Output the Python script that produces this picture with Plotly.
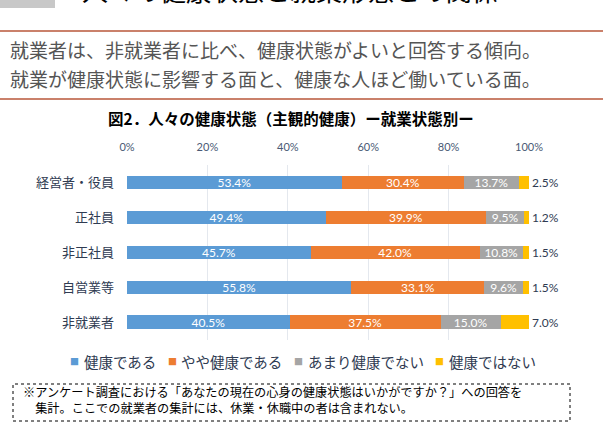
import plotly.graph_objects as go

categories = ["経営者・役員", "正社員", "非正社員", "自営業等", "非就業者"]
series_names = ["健康である", "やや健康である", "あまり健康でない", "健康ではない"]
healthy = [53.4, 49.4, 45.7, 55.8, 40.5]
somewhat = [30.4, 39.9, 42.0, 33.1, 37.5]
not_very = [13.7, 9.5, 10.8, 9.6, 15.0]
not_healthy = [2.5, 1.2, 1.5, 1.5, 7.0]
tick_vals = [0, 20, 40, 60, 80, 100]
tick_text = ["0%", "20%", "40%", "60%", "80%", "100%"]
colors = ["#5B9BD5", "#ED7D31", "#A5A5A5", "#FFC000"]

W, H = 603, 423
FONT = "Noto Sans CJK JP"
NAVY = "#2F3B52"


def py(px):
    return 1 - px / H


def pxx(px):
    return px / W


fig = go.Figure()
all_vals = [healthy, somewhat, not_very, not_healthy]
for i, (name, vals) in enumerate(zip(series_names, all_vals)):
    last = i == 3
    fig.add_trace(go.Bar(
        y=categories, x=vals, name=name, orientation="h",
        marker=dict(color=colors[i], line=dict(width=0)),
        text=[f"{v:.1f}%" for v in vals],
        textposition="outside" if last else "inside",
        insidetextanchor="middle",
        textfont=dict(family="Lato", size=12, color=NAVY if last else "white"),
        cliponaxis=False,
        hoverinfo="skip",
        showlegend=False,
    ))

fig.update_layout(
    width=W, height=H, barmode="stack", bargap=0.62,
    margin=dict(l=0, r=0, t=0, b=0, autoexpand=False),
    paper_bgcolor="white", plot_bgcolor="white",
    font=dict(family=FONT, color=NAVY),
    uniformtext=dict(minsize=12, mode="show"),
    xaxis=dict(domain=[pxx(127), pxx(529)], range=[0, 100], side="top",
               tickvals=tick_vals, ticktext=tick_text, showgrid=True,
               gridcolor="#E4E8EE", gridwidth=1, zeroline=False, automargin=False,
               tickfont=dict(family="Lato", size=11, color="#4A5A75"),
               ticks="", showline=False, fixedrange=True, ticklabelstandoff=11),
    yaxis=dict(domain=[py(339.5), py(165)], autorange="reversed", automargin=False,
               tickfont=dict(family=FONT, size=13, color=NAVY),
               ticks="", showline=False, ticklabelstandoff=12, fixedrange=True),
    showlegend=False,
)

shapes = [
    dict(type="rect", xref="paper", yref="paper", x0=-0.01, x1=pxx(55), y0=py(8), y1=1.05,
         fillcolor="#C8C8C8", line=dict(width=0)),
    dict(type="line", xref="paper", yref="paper", x0=0, x1=1, y0=py(31), y1=py(31),
         line=dict(color="#B9573A", width=1.5)),
    dict(type="line", xref="paper", yref="paper", x0=0, x1=1, y0=py(99), y1=py(99),
         line=dict(color="#B9573A", width=1.5)),
    dict(type="rect", xref="paper", yref="paper", x0=pxx(13), x1=pxx(570), y0=py(421), y1=py(384),
         line=dict(color="black", width=1, dash="dot"), fillcolor="rgba(0,0,0,0)"),
]
fig.update_layout(shapes=shapes)

annotations = [
    dict(text="人々の健康状態と就業形態との関係", xref="paper", yref="paper",
         x=pxx(80), y=py(-10), xanchor="left", yanchor="middle", showarrow=False,
         font=dict(family=FONT, size=26, color="black")),
    dict(text="就業者は、非就業者に比べ、健康状態がよいと回答する傾向。", xref="paper", yref="paper",
         x=pxx(8), y=py(49), xanchor="left", yanchor="middle", showarrow=False,
         font=dict(family=FONT, size=19, color="#555555")),
    dict(text="就業が健康状態に影響する面と、健康な人ほど働いている面。", xref="paper", yref="paper",
         x=pxx(8), y=py(79), xanchor="left", yanchor="middle", showarrow=False,
         font=dict(family=FONT, size=19, color="#555555")),
    dict(text="<b>図2．人々の健康状態（主観的健康）ー就業状態別ー</b>", xref="paper", yref="paper",
         x=pxx(291), y=py(118), xanchor="center", yanchor="middle", showarrow=False,
         font=dict(family=FONT, size=15.5, color="black")),
    dict(text="※アンケート調査における「あなたの現在の心身の健康状態はいかがですか？」への回答を"
              "<br>　集計。ここでの就業者の集計には、休業・休職中の者は含まれない。",
         xref="paper", yref="paper", x=pxx(21), y=py(400), xanchor="left", yanchor="middle",
         align="left", showarrow=False, font=dict(family=FONT, size=12.2, color="black")),
]

# legend drawn as colored squares + labels
legend_sq_x = [74.5, 172, 298, 439.5]
legend_txt_x = [82, 179, 306, 447]
for i, name in enumerate(series_names):
    annotations.append(dict(text="■", xref="paper", yref="paper", x=pxx(legend_sq_x[i]), y=py(361),
                            xanchor="center", yanchor="middle", showarrow=False,
                            font=dict(family=FONT, size=9, color=colors[i])))
    annotations.append(dict(text=name, xref="paper", yref="paper", x=pxx(legend_txt_x[i]), y=py(361),
                            xanchor="left", yanchor="middle", showarrow=False,
                            font=dict(family=FONT, size=14.5, color=NAVY)))
fig.update_layout(annotations=annotations)

fig.write_html("out.html", config={"displayModeBar": False},
               post_script="document.body.style.margin='0';document.body.style.overflow='hidden';")
